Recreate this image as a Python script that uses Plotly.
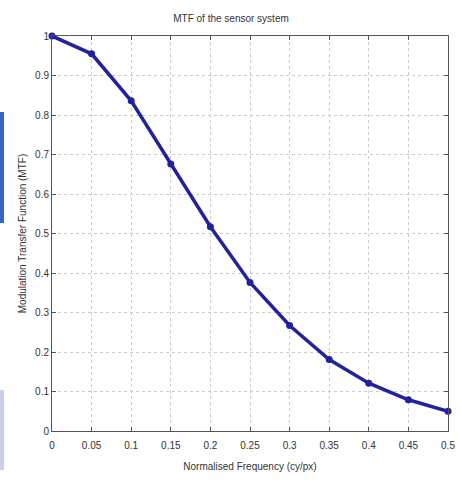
import plotly.graph_objects as go

freq = [0, 0.05, 0.1, 0.15, 0.2, 0.25, 0.3, 0.35, 0.4, 0.45, 0.5]
mtf = [1.0, 0.955, 0.836, 0.676, 0.517, 0.376, 0.267, 0.181, 0.121, 0.079, 0.05]
x_ticks = [0, 0.05, 0.1, 0.15, 0.2, 0.25, 0.3, 0.35, 0.4, 0.45, 0.5]
x_labels = ["0", "0.05", "0.1", "0.15", "0.2", "0.25", "0.3", "0.35", "0.4", "0.45", "0.5"]
y_ticks = [0, 0.1, 0.2, 0.3, 0.4, 0.5, 0.6, 0.7, 0.8, 0.9, 1.0]
y_labels = ["0", "0.1", "0.2", "0.3", "0.4", "0.5", "0.6", "0.7", "0.8", "0.9", "1"]

W, H = 462, 483
L, R, T, B = 52, 14, 36, 52
pw, ph = W - L - R, H - T - B

fig = go.Figure()
fig.add_trace(go.Scatter(
    x=freq, y=mtf, mode="lines+markers",
    line=dict(color="#22229a", width=3.5),
    marker=dict(color="#22229a", size=7),
    showlegend=False, cliponaxis=False,
))

axis_common = dict(
    showline=True, linecolor="#555555", linewidth=1, mirror="ticks",
    ticks="inside", ticklen=4, tickcolor="#555555",
    showgrid=True, gridcolor="#cccccc", griddash="dot", gridwidth=1,
    zeroline=False, automargin=False,
    tickfont=dict(family="Liberation Sans, Arial", size=10, color="#333333"),
)

fig.update_layout(
    width=W, height=H,
    paper_bgcolor="white", plot_bgcolor="white",
    margin=dict(l=L, r=R, t=T, b=B, autoexpand=False),
    title=dict(text="MTF of the sensor system", x=0.5, xanchor="center",
               y=1 - 18 / H, yanchor="middle",
               font=dict(family="Liberation Sans, Arial", size=10, color="#333333")),
    xaxis=dict(range=[0, 0.5], tickvals=x_ticks, ticktext=x_labels,
               ticklabelstandoff=5,
               title=dict(text="Normalised Frequency (cy/px)", standoff=12,
                          font=dict(family="Liberation Sans, Arial", size=10, color="#333333")),
               **axis_common),
    yaxis=dict(range=[0, 1.0], tickvals=y_ticks, ticktext=y_labels,
               title=dict(text="Modulation Transfer Function (MTF)", standoff=6,
                          font=dict(family="Liberation Sans, Arial", size=10, color="#333333")),
               **axis_common),
    shapes=[
        dict(type="rect", xref="paper", yref="paper", layer="below",
             x0=(0 - L) / pw, x1=(4 - L) / pw, y0=(H - B - 223) / ph, y1=(H - B - 112) / ph,
             fillcolor="#3a62c0", line=dict(width=0)),
        dict(type="rect", xref="paper", yref="paper", layer="below",
             x0=(0 - L) / pw, x1=(4 - L) / pw, y0=(H - B - 470) / ph, y1=(H - B - 390) / ph,
             fillcolor="#c8d0ea", line=dict(width=0)),
    ],
)

fig.write_html(
    "out.html",
    config={"displayModeBar": False},
    post_script="document.body.style.margin='0px';document.body.style.overflow='hidden';",
)
